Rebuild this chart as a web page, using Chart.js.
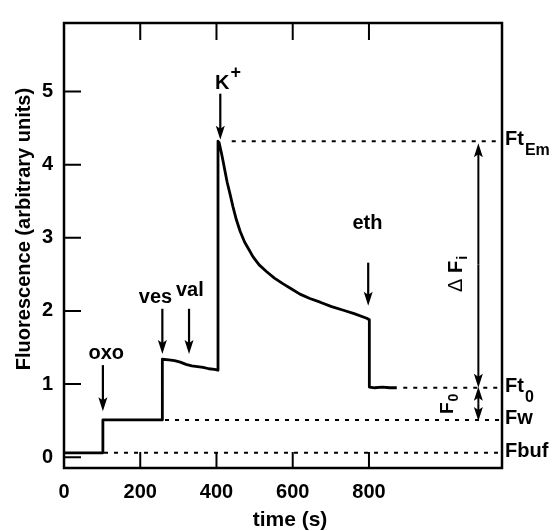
<!DOCTYPE html>
<html>
<head>
<meta charset="utf-8">
<script src="https://cdn.jsdelivr.net/npm/chart.js@4.4.1/dist/chart.umd.min.js"></script>
<style>
  html, body { margin: 0; padding: 0; background: #fff; }
</style>
</head>
<body>
<canvas id="fluo" width="558" height="531"></canvas>
<script>
// fluorescence trace
const timeS = [0, 102, 102, 258, 258, 275, 290, 305, 320, 335, 350, 365, 380, 395, 404,
  404, 407, 413, 418, 422, 428, 435, 443, 452, 462, 474, 485, 496, 512, 531, 552, 575, 597, 619, 645, 672, 702, 733, 763, 794, 801,
  801, 815, 835, 855, 873];
const fluorescence = [0.06, 0.06, 0.51, 0.51, 1.34, 1.33, 1.32, 1.30, 1.27, 1.25, 1.24, 1.23, 1.21, 1.20, 1.19,
  4.32, 4.30, 4.16, 4.03, 3.92, 3.76, 3.61, 3.43, 3.25, 3.09, 2.94, 2.84, 2.74, 2.63, 2.54, 2.45, 2.37, 2.30, 2.23, 2.17, 2.12, 2.06, 2.01, 1.96, 1.90, 1.88,
  0.96, 0.95, 0.96, 0.95, 0.95];

const xTickValues = [0, 200, 400, 600, 800];
const yTickValues = [0, 1, 2, 3, 4, 5];

// reference levels (dotted lines) and where they start
const levelMain = ['Ft', 'Ft', 'Fw', 'Fbuf'];
const levelSub = ['Em', '0', '', ''];
const levelValue = [4.32, 0.95, 0.51, 0.06];
const levelStart = [440, 890, 265, 105];

// additions, arrows pointing down on the trace
const addName = ['oxo', 'ves', 'val', 'K', 'eth'];
const addTime = [102, 258, 328, 410, 798];
const addFrom = [1.26, 2.03, 2.03, 4.97, 2.66];
const addTip = [0.63, 1.41, 1.41, 4.34, 2.07];
const addLabelTime = [111, 240, 330, 415, 796];
const addLabelLevel = [1.34, 2.11, 2.21, 5.03, 3.12];

const X_MAX = 1149;
const BRACKET_TIME = 1087;
const FONT = '"Liberation Sans", Arial, Helvetica, sans-serif';

const trace = timeS.map((t, i) => ({ x: t, y: fluorescence[i] }));
const levelSets = levelValue.map((v, i) => ({
  data: [{ x: levelStart[i], y: v }, { x: X_MAX, y: v }],
  borderColor: '#000',
  borderWidth: 2,
  borderDash: [4, 6],
  pointRadius: 0
}));

function arrow(ctx, x, y0, y1) {
  const dir = Math.sign(y1 - y0);
  ctx.beginPath();
  ctx.moveTo(x, y0);
  ctx.lineTo(x, y1 - dir * 10);
  ctx.stroke();
  ctx.beginPath();
  ctx.moveTo(x, y1);
  ctx.lineTo(x - 4.5, y1 - dir * 14);
  ctx.lineTo(x, y1 - dir * 11);
  ctx.lineTo(x + 4.5, y1 - dir * 14);
  ctx.closePath();
  ctx.fill();
}

function vtext(ctx, parts, sub, sx, sy) {
  ctx.save();
  ctx.translate(sx, sy);
  ctx.rotate(-Math.PI / 2);
  ctx.textAlign = 'left';
  ctx.textBaseline = 'alphabetic';
  let w = 0;
  parts.forEach(p => {
    ctx.font = p.font;
    ctx.fillText(p.text, w, 0);
    w += ctx.measureText(p.text).width;
  });
  ctx.font = 'bold 14px ' + FONT;
  ctx.fillText(sub, w + 1, 5);
  ctx.restore();
}

const marks = {
  id: 'marks',
  afterDraw(chart) {
    const { ctx, chartArea: a, scales } = chart;
    const px = v => scales.x.getPixelForValue(v);
    const py = v => scales.y.getPixelForValue(v);
    ctx.save();
    ctx.strokeStyle = '#000';
    ctx.fillStyle = '#000';

    // frame and inward ticks
    ctx.lineWidth = 2.5;
    ctx.strokeRect(a.left, a.top, a.right - a.left, a.bottom - a.top);
    ctx.lineWidth = 2;
    ctx.beginPath();
    xTickValues.forEach(v => {
      if (v === 0) return;
      ctx.moveTo(px(v), a.bottom); ctx.lineTo(px(v), a.bottom - 16);
      ctx.moveTo(px(v), a.top); ctx.lineTo(px(v), a.top + 17);
    });
    yTickValues.forEach(v => {
      ctx.moveTo(a.left, py(v)); ctx.lineTo(a.left + 17, py(v));
    });
    ctx.stroke();

    // axis titles
    ctx.font = 'bold 21px ' + FONT;
    ctx.textAlign = 'center';
    ctx.textBaseline = 'middle';
    ctx.fillText('time (s)', 290, 520);
    ctx.save();
    ctx.translate(24, 229);
    ctx.rotate(-Math.PI / 2);
    ctx.font = 'bold 20px ' + FONT;
    ctx.fillText('Fluorescence (arbitrary units)', 0, 0);
    ctx.restore();

    // addition arrows + labels
    ctx.lineWidth = 2.2;
    addName.forEach((name, i) => {
      arrow(ctx, px(addTime[i]), py(addFrom[i]), py(addTip[i]));
      ctx.font = 'bold 20px ' + FONT;
      ctx.textAlign = 'center';
      ctx.textBaseline = 'alphabetic';
      const lx = px(addLabelTime[i]), ly = py(addLabelLevel[i]);
      ctx.fillText(name, lx, ly);
      if (name === 'K') {
        const w = ctx.measureText(name).width;
        ctx.font = 'bold 18px ' + FONT;
        ctx.textAlign = 'left';
        ctx.fillText('+', lx + w / 2 + 1, ly - 11);
      }
    });

    // level labels on the right
    levelMain.forEach((m, i) => {
      const base = py(levelValue[i]) + 4;
      ctx.font = 'bold 20px ' + FONT;
      ctx.textAlign = 'left';
      ctx.textBaseline = 'alphabetic';
      ctx.fillText(m, a.right + 3, base);
      if (levelSub[i]) {
        const w = ctx.measureText(m).width;
        ctx.font = 'bold 16px ' + FONT;
        ctx.fillText(levelSub[i], a.right + 4 + w, base + 10);
      }
    });

    // brackets: delta Fi and F0
    const bx = px(BRACKET_TIME);
    ctx.lineWidth = 2;
    const yEm = py(levelValue[0]), yT0 = py(levelValue[1]), yW = py(levelValue[2]);
    const mid = (yEm + yT0) / 2;
    arrow(ctx, bx, mid, yEm + 2);
    arrow(ctx, bx, mid, yT0);
    const mid2 = (yT0 + yW) / 2;
    arrow(ctx, bx, mid2, yT0 - 1);
    arrow(ctx, bx, mid2, yW + 1);

    vtext(ctx, [{ text: 'Δ', font: '20px ' + FONT }, { text: ' F', font: 'bold 20px ' + FONT }], 'i',
      px(1045), py(2.26));
    vtext(ctx, [{ text: 'F', font: 'bold 19px ' + FONT }], '0', px(1021), py(0.59));

    ctx.restore();
  }
};

new Chart(document.getElementById('fluo'), {
  type: 'line',
  data: {
    datasets: [{
      data: trace,
      borderColor: '#000',
      borderWidth: 2.8,
      pointRadius: 0,
      tension: 0,
      borderJoinStyle: 'round'
    }].concat(levelSets)
  },
  options: {
    responsive: false,
    animation: false,
    layout: { padding: { top: 12, right: 56, left: 0, bottom: 0 } },
    plugins: { legend: { display: false }, tooltip: { enabled: false } },
    scales: {
      x: {
        type: 'linear',
        min: 0,
        max: X_MAX,
        afterBuildTicks: s => { s.ticks = xTickValues.map(v => ({ value: v })); },
        afterFit: s => { s.height = 63; },
        grid: { display: false, drawTicks: false },
        border: { display: false },
        ticks: { color: '#000', padding: 12, maxRotation: 0, font: { family: FONT, size: 20, weight: 'bold', lineHeight: 1.2 } }
      },
      y: {
        min: -0.147,
        max: 5.937,
        afterBuildTicks: s => { s.ticks = yTickValues.map(v => ({ value: v })); },
        afterFit: s => { s.width = 64; },
        grid: { display: false, drawTicks: false },
        border: { display: false },
        ticks: { color: '#000', padding: 11, font: { family: FONT, size: 20, weight: 'bold' } }
      }
    }
  },
  plugins: [marks]
});
</script>
</body>
</html>
